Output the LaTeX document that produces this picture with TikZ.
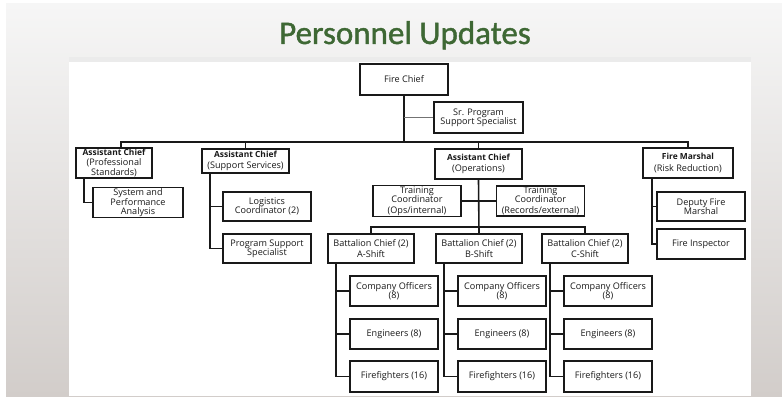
\documentclass[tikz,border=0pt]{standalone}
\usepackage{fontspec}
\setmainfont{Open Sans}
\newfontfamily\titlefont[FakeBold=1.2]{Carlito}
\usepackage{xcolor}
\usepackage{tikz}
\definecolor{titlegreen}{RGB}{62,104,52}
\definecolor{slidetop}{RGB}{246,246,246}
\definecolor{slidebot}{RGB}{210,205,202}
\newcommand{\hd}[1]{{\fontsize{8.4}{9}\selectfont\bfseries #1}}

\begin{document}
\begin{tikzpicture}[x=1pt, y=-1pt,
	unit/.style={draw=black!90, rectangle, line width=1.5pt, align=center, inner sep=1pt,
		minimum width=88pt, minimum height=29pt, text=black!90, font=\fontsize{9.1}{9.1}\selectfont},
	link/.style={line width=1.6pt, black!90}]
	\useasboundingbox (0,0) rectangle (782,398);
	\fill[white] (0,0) rectangle (782,398);
	\shade[top color=slidetop, bottom color=slidebot] (6,4) rectangle (782,396);
	\fill[black!8] (69,57) rectangle (751,62);
	\fill[white] (69,62) rectangle (751,396);

	\node[anchor=base, text=titlegreen, font=\titlefont\fontsize{33}{36}\selectfont] (title) at (405,44) {Personnel Updates};

	\node[unit, minimum height=31pt] (chief) at (404,79.5) {Fire Chief};
	\node[unit, minimum width=89pt, minimum height=31pt] (srspec) at (478.5,117.5) {Sr. Program\\Support Specialist};
	\node[unit, minimum width=76pt, minimum height=30pt] (acps) at (114,163) {\hd{Assistant Chief}\\[1pt](Professional\\Standards)};
	\node[unit, minimum width=90pt] (sysperf) at (138,202.5) {System and\\Performance\\Analysis};
	\node[unit, minimum width=87pt, minimum height=24pt] (acss) at (245.5,161) {\hd{Assistant Chief}\\[2pt](Support Services)};
	\node[unit] (logist) at (267,206.5) {Logistics\\Coordinator (2)};
	\node[unit] (progspec) at (267,248.5) {Program Support\\Specialist};
	\node[unit, minimum width=87pt, minimum height=30pt] (acops) at (478.5,164) {\hd{Assistant Chief}\\[2pt](Operations)};
	\node[unit, minimum height=28pt] (trainops) at (417,201) {Training\\Coordinator\\[2pt](Ops/internal)};
	\node[unit, minimum height=28pt] (trainrec) at (540.5,201) {Training\\Coordinator\\[2pt](Records/external)};
	\node[unit, minimum width=90pt, minimum height=30pt] (fmarshal) at (688,163) {\hd{Fire Marshal}\\[2pt](Risk Reduction)};
	\node[unit] (deputy) at (701,206.5) {Deputy Fire\\Marshal};
	\node[unit, minimum height=30pt] (inspector) at (701,244) {Fire Inspector};

	\coordinate (mainbus) at (404,142);
	\coordinate (bcbus) at (479,227);

	\draw[link] (chief.south) -- (chief.south |- mainbus);
	\draw[link, black!55] (chief.south |- srspec) -- (srspec.west);
	\draw[link] ([xshift=7pt]acps.north) -- ([xshift=7pt]acps.north |- mainbus) -| (fmarshal.north);
	\draw[link] (acss.north) -- (acss.north |- mainbus);
	\draw[link] (acops.north) -- (acops.north |- mainbus);
	\draw[link] ([xshift=9pt]acps.south west) |- (sysperf.west);
	\draw[link] ([xshift=9pt]acss.south west) |- (logist.west);
	\draw[link] ([xshift=9pt]acss.south west) |- (progspec.west);
	\draw[link] ([xshift=10pt]fmarshal.south west) |- (deputy.west);
	\draw[link] ([xshift=10pt]fmarshal.south west) |- (inspector.west);
	\draw[link] (trainops.east) -- (trainrec.west);

	\foreach \s/\bx in {A/371, B/479, C/585} {
		\node[unit, minimum width=86pt] (bc\s) at (\bx,248.5) {Battalion Chief (2)\\[2pt]\s-Shift};
		\node[unit, minimum height=30pt] (co\s) at (\bx+23,291) {Company Officers\\(8)};
		\node[unit, minimum height=30pt] (eng\s) at (\bx+23,334) {Engineers (8)};
		\node[unit, minimum height=31pt] (ff\s) at (\bx+23,376.5) {Firefighters (16)};
		\foreach \r in {co,eng,ff}
			\draw[link] ([xshift=9pt]bc\s.south west) |- (\r\s.west);
	}
	\draw[link] (acops.south) -- (bcB.north);
	\draw[link] (bcA.north) |- (bcbus) -| (bcC.north);
\end{tikzpicture}
\end{document}
